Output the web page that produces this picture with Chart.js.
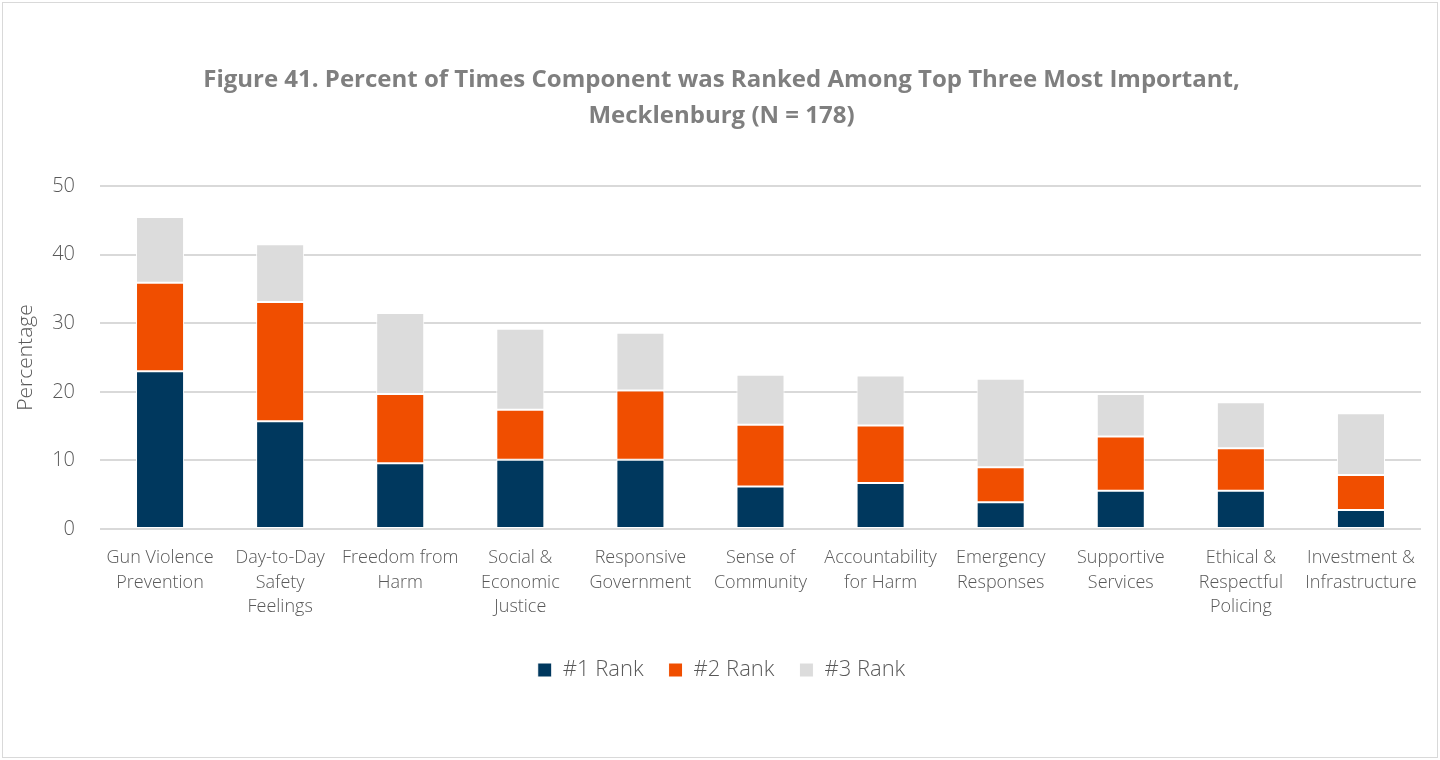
<!DOCTYPE html>
<html>
<head>
<meta charset="utf-8">
<title>Figure 41</title>
<script src="https://cdn.jsdelivr.net/npm/chart.js@4.4.1/dist/chart.umd.min.js"></script>
<style>
    html, body { margin: 0; padding: 0; background: #ffffff; }
    #frame {
        position: absolute;
        left: 2px; top: 2px;
        width: 1434px; height: 754px;
        border: 1px solid #d9d9d9;
    }
    #wrap { position: absolute; left: 0; top: 0; width: 1440px; height: 760px; }
</style>
</head>
<body>
<div id="frame"></div>
<div id="wrap"><canvas id="grafico"></canvas></div>
<script>
// Componentes (rótulos em várias linhas)
const componentes = [
    ['Gun Violence', 'Prevention'],
    ['Day-to-Day', 'Safety', 'Feelings'],
    ['Freedom from', 'Harm'],
    ['Social &', 'Economic', 'Justice'],
    ['Responsive', 'Government'],
    ['Sense of', 'Community'],
    ['Accountability', 'for Harm'],
    ['Emergency', 'Responses'],
    ['Supportive', 'Services'],
    ['Ethical &', 'Respectful', 'Policing'],
    ['Investment &', 'Infrastructure']
];

// Percentual por posição no ranking
const rank1 = [23.0, 15.7, 9.6, 10.1, 10.1, 6.2, 6.7, 3.9, 5.6, 5.6, 2.8];
const rank2 = [12.9, 17.4, 10.1, 7.3, 10.1, 9.0, 8.4, 5.1, 7.9, 6.2, 5.1];
const rank3 = [9.6, 8.4, 11.8, 11.8, 8.4, 7.3, 7.3, 12.9, 6.2, 6.7, 9.0];

const nomesSeries = ['#1 Rank', '#2 Rank', '#3 Rank'];
const coresSeries = ['#00385e', '#f04e00', '#dcdcdc'];
const ticksY = [0, 10, 20, 30, 40, 50];

const fonte = "'Open Sans', 'Noto Sans', sans-serif";
const cinza = '#595959';

const data = {
    labels: componentes,
    datasets: [rank1, rank2, rank3].map((valores, i) => ({
        label: nomesSeries[i],
        data: valores,
        backgroundColor: coresSeries[i],
        borderColor: '#ffffff',
        borderWidth: 1,
        borderSkipped: false,
        barPercentage: 0.4,
        categoryPercentage: 1.0
    }))
};

const config = {
    type: 'bar',
    data: data,
    options: {
        responsive: false,
        animation: false,
        devicePixelRatio: 1,
        layout: {
            padding: { left: 22, right: 19, top: 0, bottom: 69 }
        },
        scales: {
            x: {
                stacked: true,
                grid: { display: false },
                border: { display: false },
                ticks: {
                    color: cinza,
                    autoSkip: false,
                    maxRotation: 0,
                    padding: 9,
                    font: { family: fonte, size: 18, weight: 300, lineHeight: 1.35 }
                },
                afterFit: (scale) => { scale.height += 6; }
            },
            y: {
                stacked: true,
                min: 0,
                max: 50,
                afterBuildTicks: (scale) => {
                    scale.ticks = ticksY.map(v => ({ value: v }));
                },
                grid: { color: '#d9d9d9', lineWidth: 2, drawTicks: false },
                border: { display: false },
                ticks: {
                    color: cinza,
                    padding: 25,
                    font: { family: fonte, size: 20, weight: 300 }
                },
                title: {
                    display: true,
                    text: 'Percentage',
                    color: cinza,
                    padding: { top: -9, bottom: 10 },
                    font: { family: fonte, size: 21, weight: 300 }
                },
                afterFit: (scale) => { scale.width = 78; }
            }
        },
        plugins: {
            title: {
                display: true,
                text: ['Figure 41. Percent of Times Component was Ranked Among Top Three Most Important,',
                       'Mecklenburg (N = 178)'],
                color: '#7f7f7f',
                padding: { top: 62, bottom: 52 },
                font: { family: fonte, size: 24, weight: 'bold', lineHeight: 1.5 }
            },
            legend: {
                position: 'bottom',
                labels: {
                    color: cinza,
                    boxWidth: 14,
                    boxHeight: 14,
                    padding: 25,
                    font: { family: fonte, size: 22, weight: 300 }
                }
            },
            tooltip: { enabled: false }
        }
    }
};

const canvas = document.getElementById('grafico');
canvas.width = 1440;
canvas.height = 760;
const chartRanking = new Chart(canvas, config);
</script>
</body>
</html>
